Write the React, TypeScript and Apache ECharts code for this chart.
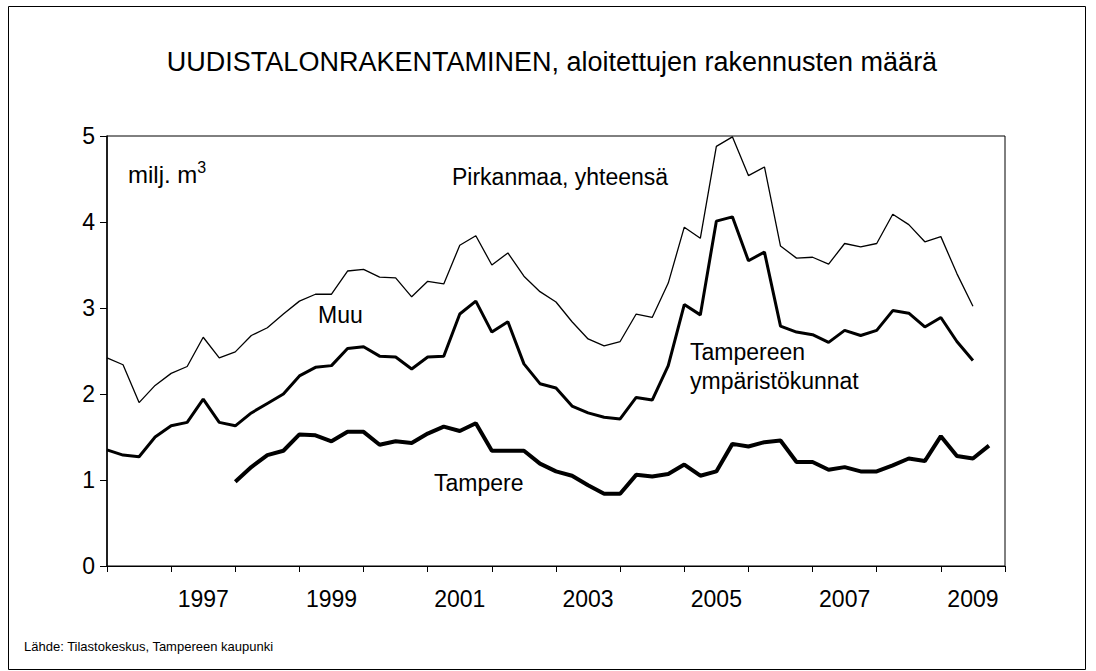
import React, { useEffect, useRef } from "react";
import * as echarts from "echarts";

const quarters: string[] = [];
for (let y = 1996; y <= 2010; y++) {
  for (let q = 1; q <= 4; q++) {
    if (y === 2010 && q > 1) break;
    quarters.push(`${y}Q${q}`);
  }
}

const pirkanmaa: (number | null)[] = [
  2.42, 2.34, 1.90, 2.10, 2.24, 2.32, 2.66, 2.42,
  2.49, 2.68, 2.77, 2.93, 3.08, 3.16, 3.16, 3.43,
  3.45, 3.36, 3.35, 3.13, 3.31, 3.28, 3.73, 3.84,
  3.50, 3.64, 3.37, 3.19, 3.07, 2.84, 2.64, 2.56,
  2.61, 2.93, 2.89, 3.29, 3.94, 3.81, 4.88, 4.99,
  4.54, 4.64, 3.72, 3.58, 3.59, 3.51, 3.75, 3.71,
  3.75, 4.09, 3.97, 3.77, 3.83, 3.40, 3.02, null, null,
];

const ymparisto: (number | null)[] = [
  1.35, 1.29, 1.27, 1.50, 1.63, 1.67, 1.94, 1.67,
  1.63, 1.78, 1.89, 2.00, 2.21, 2.31, 2.33, 2.53,
  2.55, 2.44, 2.43, 2.29, 2.43, 2.44, 2.93, 3.08,
  2.72, 2.84, 2.35, 2.12, 2.07, 1.86, 1.78, 1.73,
  1.71, 1.96, 1.93, 2.33, 3.04, 2.92, 4.01, 4.06,
  3.55, 3.65, 2.79, 2.72, 2.69, 2.60, 2.74, 2.68,
  2.74, 2.97, 2.94, 2.78, 2.89, 2.61, 2.39, null, null,
];

const tampere: (number | null)[] = [
  null, null, null, null, null, null, null, null,
  0.98, 1.15, 1.29, 1.34, 1.53, 1.52, 1.45, 1.56,
  1.56, 1.41, 1.45, 1.43, 1.54, 1.62, 1.57, 1.66,
  1.34, 1.34, 1.34, 1.19, 1.10, 1.05, 0.94, 0.84,
  0.84, 1.06, 1.04, 1.07, 1.18, 1.05, 1.10, 1.42,
  1.39, 1.44, 1.46, 1.21, 1.21, 1.12, 1.15, 1.10,
  1.10, 1.17, 1.25, 1.22, 1.51, 1.28, 1.25, 1.40, null,
];

const FONT = "'Liberation Sans', Arial, sans-serif";

export default function App() {
  const ref = useRef<HTMLDivElement>(null);
  useEffect(() => {
    if (!ref.current) return;
    const chart = echarts.init(ref.current, undefined, { renderer: "svg" });
    chart.setOption({
      animation: false,
      backgroundColor: "#ffffff",
      textStyle: { fontFamily: FONT, color: "#000" },
      grid: {
        left: 107,
        right: 91,
        top: 136,
        bottom: 105,
        show: true,
        borderColor: "#000",
        borderWidth: 1,
      },
      xAxis: {
        type: "category",
        data: quarters,
        boundaryGap: false,
        axisLine: { lineStyle: { color: "#000", width: 1 } },
        axisTick: { interval: 3, length: 6, lineStyle: { color: "#000" } },
        axisLabel: {
          interval: (i: number) => i % 8 === 6,
          formatter: (v: string) => v.slice(0, 4),
          fontSize: 23,
          color: "#000",
          fontFamily: FONT,
          margin: 21,
        },
        splitLine: { show: false },
      },
      yAxis: {
        type: "value",
        min: 0,
        max: 5,
        interval: 1,
        axisLine: { show: true, lineStyle: { color: "#000", width: 1.5 } },
        axisTick: { show: true, length: 7, lineStyle: { color: "#000" } },
        axisLabel: { fontSize: 23, color: "#000", fontFamily: FONT, margin: 12 },
        splitLine: { show: false },
      },
      series: [
        {
          name: "Pirkanmaa, yhteensä",
          type: "line",
          data: pirkanmaa,
          symbol: "none",
          lineStyle: { color: "#000", width: 1.3 },
        },
        {
          name: "Tampereen ympäristökunnat",
          type: "line",
          data: ymparisto,
          symbol: "none",
          lineStyle: { color: "#000", width: 3 },
        },
        {
          name: "Tampere",
          type: "line",
          data: tampere,
          symbol: "none",
          lineStyle: { color: "#000", width: 4 },
        },
      ],
      graphic: [
        {
          type: "rect",
          shape: { x: 8.5, y: 6.5, width: 1077, height: 663 },
          style: { fill: "none", stroke: "#000", lineWidth: 1 },
          silent: true,
        },
        {
          type: "text",
          x: 552,
          y: 62,
          style: {
            text: "UUDISTALONRAKENTAMINEN, aloitettujen rakennusten määrä",
            font: `27px ${FONT}`,
            fill: "#000",
            align: "center",
            verticalAlign: "middle",
          },
        },
        {
          type: "text",
          x: 128,
          y: 174,
          style: {
            text: "milj. m{sup|3}",
            font: `24px ${FONT}`,
            fill: "#000",
            verticalAlign: "middle",
            rich: {
              sup: { fontSize: 16, fontFamily: FONT, verticalAlign: "top", padding: [0, 0, 14, 0] },
            },
          },
        },
        {
          type: "text",
          x: 452,
          y: 177,
          style: { text: "Pirkanmaa, yhteensä", font: `23px ${FONT}`, fill: "#000", verticalAlign: "middle" },
        },
        {
          type: "text",
          x: 318,
          y: 315,
          style: { text: "Muu", font: `23px ${FONT}`, fill: "#000", verticalAlign: "middle" },
        },
        {
          type: "text",
          x: 690,
          y: 352,
          style: { text: "Tampereen", font: `23px ${FONT}`, fill: "#000", verticalAlign: "middle" },
        },
        {
          type: "text",
          x: 690,
          y: 381,
          style: { text: "ympäristökunnat", font: `23px ${FONT}`, fill: "#000", verticalAlign: "middle" },
        },
        {
          type: "text",
          x: 434,
          y: 483,
          style: { text: "Tampere", font: `23px ${FONT}`, fill: "#000", verticalAlign: "middle" },
        },
        {
          type: "text",
          x: 24,
          y: 646,
          style: {
            text: "Lähde: Tilastokeskus, Tampereen kaupunki",
            font: `13px ${FONT}`,
            fill: "#000",
            verticalAlign: "middle",
          },
        },
      ],
    });
    return () => chart.dispose();
  }, []);
  return (
    <div
      ref={ref}
      style={{ position: "absolute", left: 0, top: 0, width: 1096, height: 671 }}
    />
  );
}
